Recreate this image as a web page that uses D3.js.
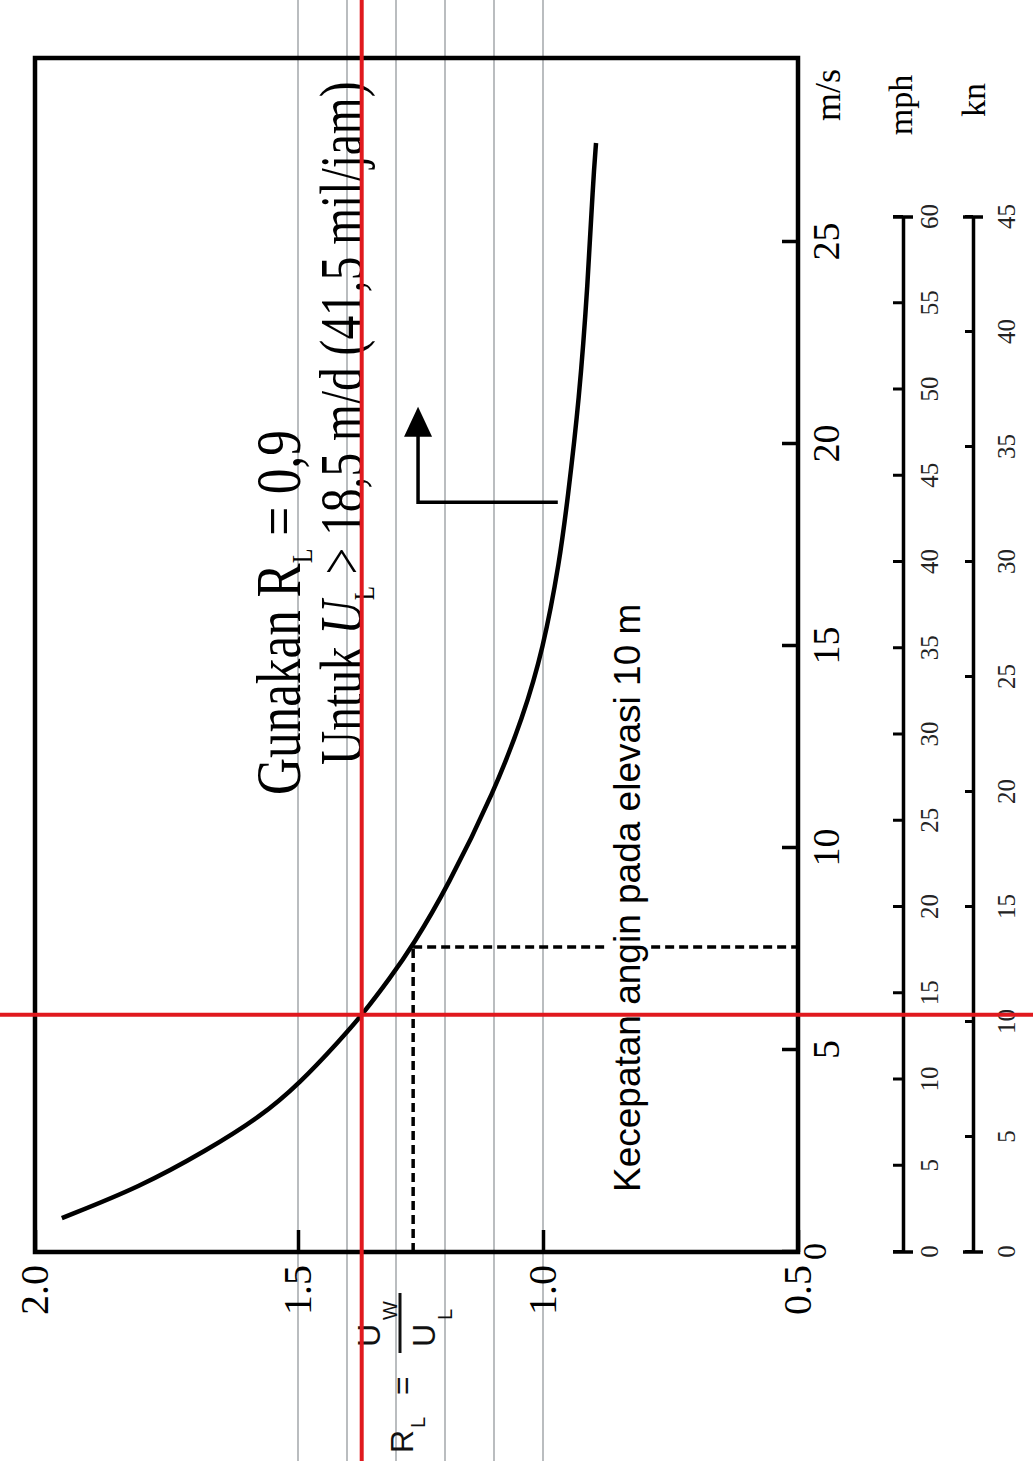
<!DOCTYPE html>
<html>
<head>
<meta charset="utf-8">
<script src="https://cdn.jsdelivr.net/npm/d3@7"></script>
<style>
  body { margin: 0; background: #fff; }
  svg { display: block; }
</style>
</head>
<body>
<div id="chart"></div>
<script>
// curve: wind speed at 10 m (m/s) vs R_L
const windSpeed = [0.84, 1.61, 2.52, 3.34, 4.18, 5.25, 5.87, 6.78, 7.60, 9.01, 11.44, 13.24, 14.90, 17.13, 18.61, 21.09, 23.99, 26.46, 27.45];
const ratioRL   = [1.949, 1.800, 1.673, 1.572, 1.496, 1.414, 1.369, 1.312, 1.265, 1.196, 1.098, 1.041, 1.000, 0.967, 0.952, 0.929, 0.912, 0.902, 0.896];

const msTicks  = [0, 5, 10, 15, 20, 25];
const rlTicks  = [2.0, 1.5, 1.0, 0.5];
const mphTicks = [0, 5, 10, 15, 20, 25, 30, 35, 40, 45, 50, 55, 60];
const knTicks  = [0, 5, 10, 15, 20, 25, 30, 35, 40, 45];
const gridRL   = [1.5, 1.4, 1.3, 1.2, 1.1, 1.0];

// guide lines drawn over the figure
const guideRL = 1.37, guideMs = 5.87;
const readMs = 7.55, readRL = 1.265;
const arrowMs = [18.56, 20.92];
const arrowRL = [0.971, 1.255];

const W = 1033, H = 1461;
const serif = "'Liberation Serif', 'Times New Roman', serif";
const sans = "'Liberation Sans', Arial, sans-serif";

const svg = d3.select("#chart").append("svg")
    .attr("width", W)
    .attr("height", H);

svg.append("rect").attr("width", W).attr("height", H).attr("fill", "#fff");

// whole figure is drawn upright, then turned a quarter turn
const g = svg.append("g")
    .attr("transform", "translate(0," + H + ") rotate(-90)");

const x = d3.scaleLinear().domain([0, 25]).range([209, 1219]);
const y = d3.scaleLinear().domain([2.0, 1.5, 1.0, 0.5]).range([35, 298, 543, 798]);
const mph = d3.scaleLinear().domain([0, 60]).range([209, 1244]);
const kn = d3.scaleLinear().domain([0, 45]).range([209, 1244]);

const frameRight = 1403;

// gray guide lines
g.selectAll(".grid")
    .data(gridRL)
    .enter()
    .append("line")
    .attr("x1", 0).attr("x2", H)
    .attr("y1", d => y(d)).attr("y2", d => y(d))
    .attr("stroke", "#a9adb0")
    .attr("stroke-width", 1.6);

// frame
g.append("rect")
    .attr("x", x(0)).attr("y", y(2.0))
    .attr("width", frameRight - x(0))
    .attr("height", y(0.5) - y(2.0))
    .attr("fill", "none")
    .attr("stroke", "#000")
    .attr("stroke-width", 4.5);

// m/s axis
const msAxis = g.append("g")
    .attr("transform", "translate(0," + y(0.5) + ")")
    .call(d3.axisBottom(x).tickValues(msTicks).tickSizeInner(-16).tickSizeOuter(0).tickPadding(14));
msAxis.select(".domain").remove();
msAxis.selectAll("line").attr("stroke-width", 3.5);
msAxis.selectAll("text").style("font-family", serif).style("font-size", "38px").attr("fill", "#000");
msAxis.selectAll(".tick text").filter(d => d === 0).attr("y", 4).style("font-size", "34px");

// R_L axis
const rlAxis = g.append("g")
    .attr("transform", "translate(" + x(0) + ",0)")
    .call(d3.axisLeft(y).tickValues(rlTicks).tickFormat(d3.format(".1f")).tickSizeInner(-22).tickSizeOuter(0).tickPadding(13));
rlAxis.select(".domain").remove();
rlAxis.selectAll("line").attr("stroke-width", 3.5);
rlAxis.selectAll("text").style("font-family", serif).style("font-size", "40px").attr("fill", "#000");

// mph and kn scales under the plot
function sideScale(scale, ticks, pos, tick, pad) {
    const ax = g.append("g")
        .attr("transform", "translate(0," + pos + ")")
        .call(d3.axisBottom(scale).tickValues(ticks).tickSizeInner(-tick).tickSizeOuter(0).tickPadding(pad));
    ax.select(".domain").attr("stroke-width", 3.5);
    ax.selectAll(".tick line").attr("stroke-width", 3);
    ax.selectAll("text").style("font-family", serif).style("font-size", "25px").attr("fill", "#222");
    const d = scale.domain();
    g.selectAll(null)
        .data(d)
        .enter()
        .append("line")
        .attr("x1", v => scale(v)).attr("x2", v => scale(v))
        .attr("y1", pos - 10).attr("y2", pos + 10)
        .attr("stroke", "#000")
        .attr("stroke-width", 3.5);
}
sideScale(mph, mphTicks, 903, 10, 17);
sideScale(kn, knTicks, 973, 8, 24);

// unit labels
const units = [
    { t: "m/s", lx: 1366, ly: 840, size: 36 },
    { t: "mph", lx: 1356, ly: 912, size: 34 },
    { t: "kn", lx: 1361, ly: 985, size: 34 }
];
g.selectAll(".unit")
    .data(units)
    .enter()
    .append("text")
    .attr("x", d => d.lx).attr("y", d => d.ly)
    .attr("text-anchor", "middle")
    .style("font-family", serif)
    .style("font-size", d => d.size + "px")
    .text(d => d.t);

// curve
const pts = windSpeed.map((v, i) => [v, ratioRL[i]]);
const line = d3.line()
    .x(d => x(d[0]))
    .y(d => y(d[1]))
    .curve(d3.curveBasis);
g.append("path")
    .datum(pts)
    .attr("fill", "none")
    .attr("stroke", "#000")
    .attr("stroke-width", 4.5)
    .attr("d", line);

// dashed reading lines
const plain = d3.line().x(d => x(d[0])).y(d => y(d[1]));
[[[readMs, readRL], [readMs, 0.5]], [[0, readRL], [readMs, readRL]]].forEach(seg => {
    g.append("path")
        .attr("d", plain(seg))
        .attr("fill", "none")
        .attr("stroke", "#000")
        .attr("stroke-width", 3.5)
        .attr("stroke-dasharray", "9,5");
});

// arrow
const tipX = x(arrowMs[1]), tipY = y(arrowRL[1]);
g.append("path")
    .attr("d", plain([[arrowMs[0], arrowRL[0]], [arrowMs[0], arrowRL[1]]]) + "L" + (tipX - 26) + "," + tipY)
    .attr("fill", "none")
    .attr("stroke", "#000")
    .attr("stroke-width", 3.5);
g.append("path")
    .attr("d", "M" + tipX + "," + tipY + "L" + (tipX - 30) + "," + (tipY - 14) + "L" + (tipX - 30) + "," + (tipY + 14) + "Z")
    .attr("fill", "#000");

// annotation texts
const t1 = g.append("text")
    .attr("transform", "translate(666,300) scale(0.8,1)")
    .style("font-family", serif)
    .style("font-size", "64px");
t1.append("tspan").text("Gunakan R");
t1.append("tspan").attr("dy", 12).style("font-size", "30px").text("L");
t1.append("tspan").attr("dy", -12).text(" = 0,9");

const t2 = g.append("text")
    .attr("transform", "translate(696,362) scale(0.765,1)")
    .style("font-family", serif)
    .style("font-size", "62px");
t2.append("tspan").text("Untuk ");
t2.append("tspan").style("font-style", "italic").text("U");
t2.append("tspan").attr("dy", 12).style("font-size", "30px").text("L");
t2.append("tspan").attr("dy", -12).text(" > 18,5 m/d (41,5 mil/jam)");

const t3 = g.append("text")
    .attr("x", 269).attr("y", 640)
    .style("font-family", sans)
    .style("font-size", "37px")
    .text("Kecepatan angin pada elevasi 10 m");
const bb = t3.node().getBBox();
g.insert("rect", () => t3.node())
    .attr("x", bb.x - 4).attr("y", bb.y)
    .attr("width", bb.width + 8).attr("height", bb.height)
    .attr("fill", "#fff");

// R_L = U_W / U_L label
const lab = g.append("g").style("font-family", sans).attr("fill", "#111");
lab.append("text").attr("x", 8).attr("y", 413).style("font-size", "32px").text("R");
lab.append("text").attr("x", 33).attr("y", 425).style("font-size", "20px").text("L");
lab.append("text").attr("x", 66).attr("y", 413).style("font-size", "32px").text("=");
lab.append("line").attr("x1", 108).attr("x2", 168).attr("y1", 400).attr("y2", 400)
    .attr("stroke", "#111").attr("stroke-width", 3);
lab.append("text").attr("x", 114).attr("y", 380).style("font-size", "32px").text("U");
lab.append("text").attr("x", 141).attr("y", 397).style("font-size", "20px").text("W");
lab.append("text").attr("x", 114).attr("y", 435).style("font-size", "32px").text("U");
lab.append("text").attr("x", 141).attr("y", 452).style("font-size", "20px").text("L");

// red guide lines on top
g.append("line")
    .attr("x1", 0).attr("x2", H)
    .attr("y1", y(guideRL)).attr("y2", y(guideRL))
    .attr("stroke", "#e0191e")
    .attr("stroke-width", 4);
g.append("line")
    .attr("x1", x(guideMs)).attr("x2", x(guideMs))
    .attr("y1", 0).attr("y2", W)
    .attr("stroke", "#e0191e")
    .attr("stroke-width", 4);
</script>
</body>
</html>
